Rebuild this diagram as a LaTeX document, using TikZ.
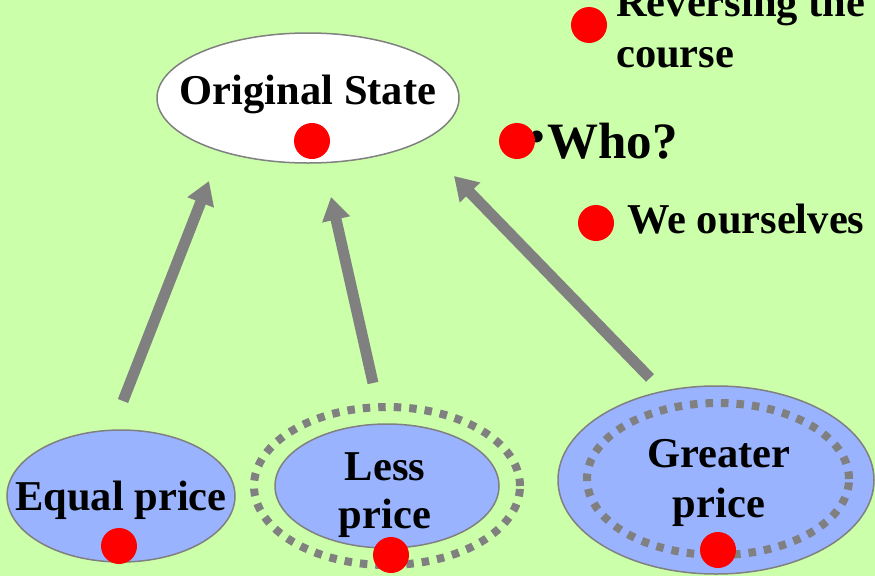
\documentclass[tikz,border=0pt]{standalone}
\usepackage{fontspec}
\setmainfont{Liberation Serif}
\usetikzlibrary{arrows.meta,shapes.geometric}
\definecolor{bg}{HTML}{CCFFAA}
\definecolor{blu}{HTML}{99B3FF}
\definecolor{gr}{HTML}{808080}
\definecolor{rd}{HTML}{FF0000}
\begin{document}
\begin{tikzpicture}[x=1pt,y=-1pt,
  lbl/.style={font=\bfseries\fontsize{42.5}{48}\selectfont, inner sep=0pt, anchor=base},
  lblw/.style={lbl, anchor=base west},
  oval/.style={ellipse, draw=gr, line width=1.5pt, fill=blu, inner sep=0pt},
  ring/.style={ellipse, draw=gr, line width=8pt, dash pattern=on 7.5pt off 8pt, inner sep=0pt},
  reddot/.style={circle, fill=rd, minimum size=36pt, inner sep=0pt},
  bigarrow/.style={draw=gr, line width=11pt, -{Triangle[length=23pt,width=27pt]}}
]
\useasboundingbox[fill=bg] (0,0) rectangle (875,576);

% top ellipse
\node[ellipse, draw=gr, line width=1.5pt, fill=white, inner sep=0pt,
      minimum width=302pt, minimum height=130pt] (orig) at (308,98) {};
\node[lbl] (origtxt) at (308,104) {Original State};

% bottom ellipses
\node[oval, minimum width=228pt, minimum height=132pt] (equal) at (121,496) {};
\node[lbl] (equaltxt) at (121,510) {Equal price};

\node[ring, minimum width=266pt, minimum height=158pt] (lessring) at (387,486) {};
\node[oval, minimum width=224pt, minimum height=124pt] (less) at (387,486) {};
\node[lbl] (lesstxta) at (385,480) {Less};
\node[lbl] (lesstxtb) at (385,528) {price};

\node[oval, minimum width=316pt, minimum height=188pt] (greater) at (716,480) {};
\node[ring, minimum width=262pt, minimum height=152pt] (greaterring) at (718,479) {};
\node[lbl] (greatertxta) at (719,467) {Greater};
\node[lbl] (greatertxtb) at (719,517) {price};

% right-hand text
\node[lblw] (rev1) at (616,16) {Reversing the};
\node[lblw] (rev2) at (616,67) {course};
\node[inner sep=0pt, font=\bfseries\fontsize{44}{48}\selectfont] (bul) at (537,141) {•};
\node[inner sep=0pt, anchor=base west, font=\bfseries\fontsize{51}{56}\selectfont] (who) at (547,158) {Who?};
\node[lblw] (we) at (627,233) {We ourselves};

% arrows
\coordinate (a1s) at (123,401);
\coordinate (a1e) at (209,181);
\coordinate (a2s) at (373,383);
\coordinate (a2e) at (331,197);
\coordinate (a3s) at (650,378);
\coordinate (a3e) at (454,176);
\draw[bigarrow] (a1s) -- (a1e);
\draw[bigarrow] (a2s) -- (a2e);
\draw[bigarrow] (a3s) -- (a3e);

% red dots
\node[reddot] (d1) at (312,141) {};
\node[reddot] (d2) at (589,25) {};
\node[reddot] (d3) at (517,141) {};
\node[reddot] (d4) at (596,223) {};
\node[reddot] (d5) at (119,546) {};
\node[reddot] (d6) at (391,555) {};
\node[reddot] (d7) at (718,550) {};
\end{tikzpicture}
\end{document}
